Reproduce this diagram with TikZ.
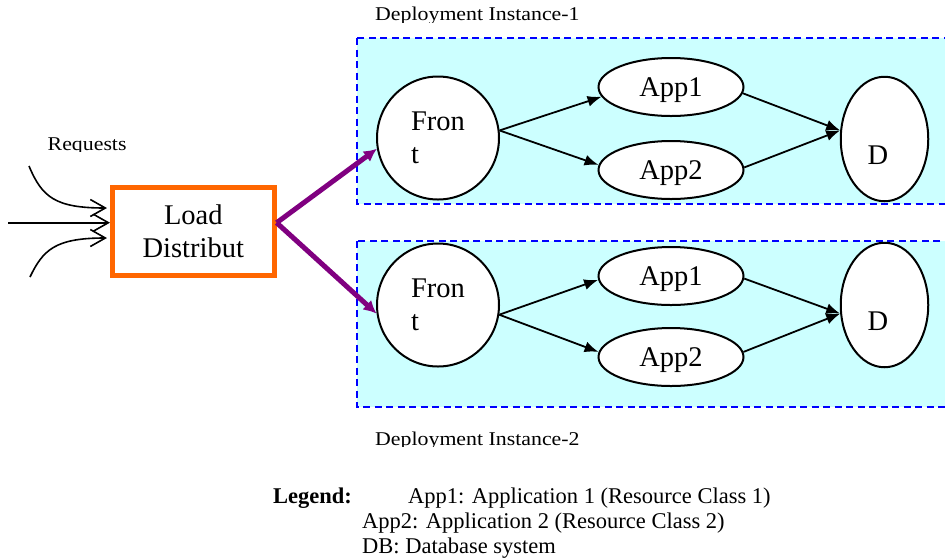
\documentclass[tikz,border=0pt]{standalone}
\usepackage{fontspec}
\setmainfont{Liberation Serif}
\newfontfamily\labelfont{Liberation Serif}[FakeStretch=1.12]
\usetikzlibrary{arrows.meta}
\usetikzlibrary{calc}
\usetikzlibrary{positioning,shapes.geometric}

\definecolor{instfill}{HTML}{CCFFFF}
\definecolor{instline}{HTML}{0000FF}
\definecolor{lborange}{HTML}{FF6600}
\definecolor{lbpurple}{HTML}{800080}

\begin{document}
\begin{tikzpicture}
[x=1pt,y=-1pt,>={Latex[length=14pt,width=11pt]},every node/.style={inner sep=0pt},
 front/.style={ellipse,draw,fill=white,line width=2pt,minimum width=122pt,minimum height=123pt,align=left,font=\fontsize{28.5}{33}\selectfont},
 app/.style={ellipse,draw,fill=white,line width=2pt,minimum width=145pt,minimum height=58pt,text depth=0pt,font=\fontsize{28.5}{33}\selectfont},
 db/.style={ellipse,draw,fill=white,line width=2pt,minimum width=87.5pt,minimum height=124.5pt},
 dbtext/.style={font=\fontsize{28.5}{33}\selectfont},
 loadbox/.style={rectangle,draw=lborange,line width=5pt,fill=white,minimum width=161.7pt,minimum height=88pt,align=center,font=\fontsize{28.5}{33}\selectfont},
 instbox/.style={draw=instline,fill=instfill,line width=2pt,dash pattern=on 7pt off 4.5pt},
 small/.style={anchor=base west,font=\labelfont\fontsize{19.5}{22}\selectfont},
 legend/.style={anchor=base west,font=\fontsize{22.5}{26}\selectfont},
 reqarrow/.style={line width=1.6pt,-{Straight Barb[length=15pt,width=17pt,line width=1.6pt]}},
 loadarrow/.style={draw=lbpurple,line width=5pt,-{Latex[length=13pt,width=13pt]}}]

\useasboundingbox (0,0) rectangle (945,558);

% deployment instances
\draw[instbox] (356.5,38) rectangle (948,203.5);
\draw[instbox] (356.5,241) rectangle (948,407);

\begin{scope}
\clip (360,0) rectangle (620,22.3);
\node[small] (inst1) at (375,20.7) {Deployment Instance-1};
\end{scope}
\begin{scope}
\clip (360,420) rectangle (620,446.5);
\node[small] (inst2) at (375,445) {Deployment Instance-2};
\end{scope}
\begin{scope}
\clip (40,120) rectangle (140,151.5);
\node[small] (req) at (47.5,150) {Requests};
\end{scope}

% load distributor
\node[loadbox] (ld) at (193.3,231.5) {Load\\Distribut};

\coordinate (rq1) at (29,166);
\coordinate (rq2) at (8,222.7);
\coordinate (rq3) at (30,277);
\draw[reqarrow] (rq1) .. controls (42,197) and (55,208) .. ($(ld.west)+(-3,-23.5)$);
\draw[reqarrow] (rq2) -- (rq2 -| ld.west);
\draw[reqarrow] (rq3) .. controls (43,250) and (55,238) .. ($(ld.west)+(-3,6.5)$);

% instance 1
\node[front] (f1) at (438,138) {Fron\\t};
\node[app] (a1) at (671,87) {App1};
\node[app] (a2) at (671,170) {App2};
\node[db] (d1) at (884.5,139) {};
\node[dbtext] (d1t) at (878,155) {D};

% instance 2
\node[front] (f2) at (438,305) {Fron\\t};
\node[app] (a3) at (671,276) {App1};
\node[app] (a4) at (671,357) {App2};
\node[db] (d2) at (884.5,305) {};
\node[dbtext] (d2t) at (878,321) {D};

\foreach \from/\to in {f1.7/a1.188,f1.7/a2.176,a1.355/d1.169,a2.2/d1.169,
                       f2.351/a3.183,f2.351/a4.176,a3.358/d2.191,a4.4/d2.191}
\draw[->,line width=1.8pt] (\from) -- (\to);

\draw[loadarrow] (ld.6) -- (f1.190);
\draw[loadarrow] (ld.6) -- (f2.188);

% legend
\node[legend,font=\bfseries\fontsize{22.5}{26}\selectfont] (leg) at (273,503) {Legend:};
\node[legend] (leg1) at (408,503) {App1: Application 1 (Resource Class 1)};
\node[legend] (leg2) at (362,528.5) {App2: Application 2 (Resource Class 2)};
\node[legend] (leg3) at (362,553.5) {DB: Database system};

\end{tikzpicture}
\end{document}
